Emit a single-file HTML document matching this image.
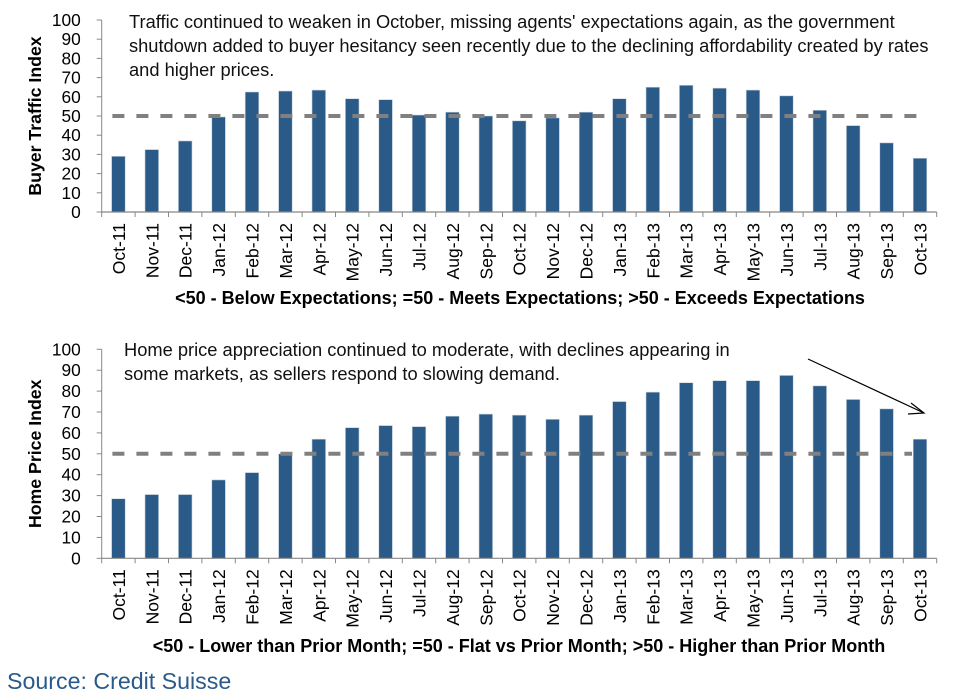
<!DOCTYPE html>
<html><head><meta charset="utf-8"><style>
body{margin:0;background:#fff;width:955px;height:694px;overflow:hidden;font-family:"Liberation Sans",Arial,sans-serif}
svg text{font-family:"Liberation Sans",Arial,sans-serif}
</style></head><body>
<svg id="c" width="955" height="694" xmlns="http://www.w3.org/2000/svg"></svg>
<script>
const categories=["Oct-11","Nov-11","Dec-11","Jan-12","Feb-12","Mar-12","Apr-12","May-12","Jun-12","Jul-12","Aug-12","Sep-12","Oct-12","Nov-12","Dec-12","Jan-13","Feb-13","Mar-13","Apr-13","May-13","Jun-13","Jul-13","Aug-13","Sep-13","Oct-13"];
const trafficValues=[29,32.5,37,49.5,62.5,63,63.5,59,58.5,50.5,52,50,47.5,49,52,59,65,66,64.5,63.5,60.5,53,45,36,28];
const priceValues=[28.5,30.5,30.5,37.5,41,50,57,62.5,63.5,63,68,69,68.5,66.5,68.5,75,79.5,84,85,85,87.5,82.5,76,71.5,57];
const yTicks=[0,10,20,30,40,50,60,70,80,90,100];
const refValue=50;
const NS="http://www.w3.org/2000/svg";
const svg=document.getElementById('c');
function mk(tag,attrs,parent,text){const e=document.createElementNS(NS,tag);for(const k in attrs)e.setAttribute(k,attrs[k]);if(text!==undefined)e.textContent=text;(parent||svg).appendChild(e);return e;}
function drawChart(cfg){
  const g=mk('g',{});
  
  
  const x0=101.7,step=33.4,y0=cfg.y0,y100=cfg.y100;
  const yS=v=>y0-(y0-y100)*v/100;
  const xS=i=>x0+step*i+step/2;
  cfg.values.forEach((v,i)=>{
    const r=mk('rect',{x:xS(i)-6.8,y:yS(v),width:13.6,height:y0-yS(v),fill:'#2a5a87',stroke:'#c9d3de','stroke-width':0.6},g);
    
    
  });
  const rl=mk('line',{x1:xS(0)-6,x2:cfg.refEnd,y1:yS(refValue),y2:yS(refValue),stroke:'#808080','stroke-width':4,'stroke-dasharray':'12 12'},g);
  
  
  const ya=mk('line',{x1:x0,x2:x0,y1:y100,y2:y0,stroke:'#888','stroke-width':1},g);
  
  
  const xa=mk('line',{x1:x0,x2:x0+step*categories.length,y1:y0,y2:y0,stroke:'#888','stroke-width':1.2},g);
  
  
  yTicks.forEach(t=>{
    mk('line',{x1:x0-5,x2:x0,y1:yS(t),y2:yS(t),stroke:'#888'},g);
    const tl=mk('text',{x:x0-21,y:yS(t)+6,'text-anchor':'end','font-size':17.3,fill:'#000'},g,String(t));
    
    
  });
  for(let i=0;i<=categories.length;i++){mk('line',{x1:x0+step*i,x2:x0+step*i,y1:y0,y2:y0+5,stroke:'#888'},g);}
  categories.forEach((c,i)=>{
    const tl=mk('text',{transform:`translate(${xS(i)+6.5},${y0+11}) rotate(-90)`,'text-anchor':'end','font-size':17.5,fill:'#000'},g,c);
    
    
  });
  const yt=mk('text',{transform:`translate(${41},${(y0+y100)/2}) rotate(-90)`,'text-anchor':'middle','font-size':17.7,'font-weight':'bold',fill:'#000'},g,cfg.yTitle);
  
  
  const xt=mk('text',{x:cfg.xTitleX,y:cfg.xTitleY,'text-anchor':'middle','font-size':18,'font-weight':'bold',fill:'#000'},g,cfg.xTitle);
  
  
  cfg.notes.forEach((n,i)=>{
    const t=mk('text',{x:cfg.noteX,y:cfg.noteY+i*24,'font-size':18.3,fill:'#111'},g,n);
    
    
  });
}
drawChart({name:'buyer-traffic-chart',values:trafficValues,y0:212,y100:20,refEnd:922,yTitle:'Buyer Traffic Index',
  xTitle:'<50 - Below Expectations; =50 - Meets Expectations; >50 - Exceeds Expectations',xTitleX:520,xTitleY:304,
  noteX:129,noteY:28,notes:["Traffic continued to weaken in October, missing agents' expectations again, as the government","shutdown added to buyer hesitancy seen recently due to the declining affordability created by rates","and higher prices."]});
drawChart({name:'home-price-chart',values:priceValues,y0:558.3,y100:349.3,refEnd:912,yTitle:'Home Price Index',
  xTitle:'<50 - Lower than Prior Month; =50 - Flat vs Prior Month; >50 - Higher than Prior Month',xTitleX:519,xTitleY:652,
  noteX:124,noteY:356,notes:["Home price appreciation continued to moderate, with declines appearing in","some markets, as sellers respond to slowing demand."]});
const ar=mk('g',{});


mk('line',{x1:808,y1:359,x2:924,y2:413,stroke:'#000','stroke-width':1.2},ar);
mk('polyline',{points:'911,403 924,413 908,414',fill:'none',stroke:'#000','stroke-width':1.2},ar);
const src=mk('text',{x:7,y:689,'font-size':23.2,fill:'#2a5a8a'},svg,'Source: Credit Suisse');


</script>
</body></html>
